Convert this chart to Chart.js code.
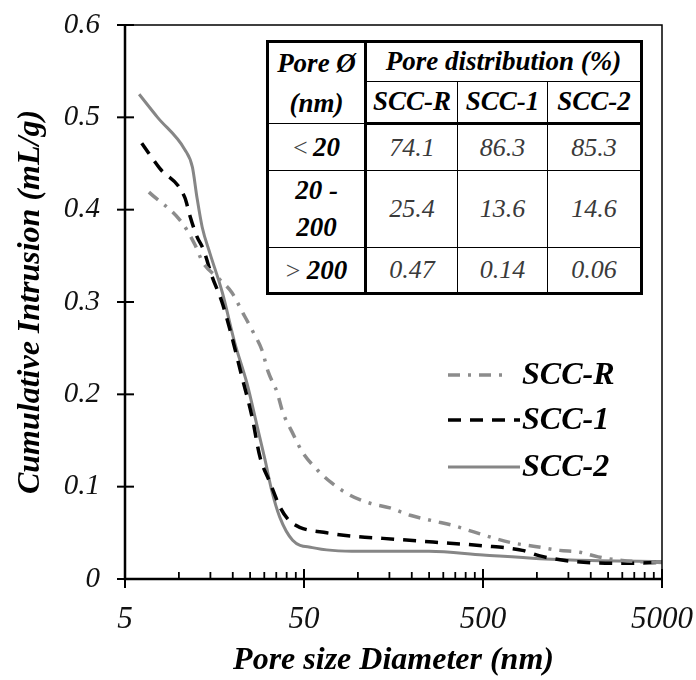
<!DOCTYPE html>
<html>
<head>
<meta charset="utf-8">
<script src="https://cdn.jsdelivr.net/npm/chart.js@4.4.1/dist/chart.umd.min.js"></script>
<style>
  html, body { margin: 0; padding: 0; background: #fff; }
  #wrap { position: relative; width: 696px; height: 680px; }
  #c { position: absolute; left: 0; top: 0; }
  #tbl {
    position: absolute; left: 266px; top: 40px;
    border-collapse: collapse; border: 3px solid #000;
    font-family: "Liberation Serif", "Times New Roman"; font-style: italic;
    font-size: 26px; color: #222; background: #fff; table-layout: fixed;
  }
  #tbl td { border: 1.5px solid #000; padding: 0; text-align: center; vertical-align: middle; white-space: nowrap; }
  #tbl .b { font-weight: bold; color: #000; font-size: 27px; }
  #tbl .v { color: #3a3a3a; }
  #tbl .thickR { border-right: 3px solid #000; }
  #tbl .thickB td { border-bottom: 3px solid #000; }
</style>
</head>
<body>
<div id="wrap">
  <canvas id="c" width="696" height="680"></canvas>
  <table id="tbl">
    <colgroup><col style="width:98px"><col style="width:92px"><col style="width:90px"><col style="width:94px"></colgroup>
    <tr style="height:38px"><td rowspan="2" class="b thickR" style="line-height:40px">Pore Ø<br>(nm)</td><td colspan="3" class="b">Pore distribution (%)</td></tr>
    <tr style="height:40px" class="thickB"><td class="b">SCC-R</td><td class="b">SCC-1</td><td class="b">SCC-2</td></tr>
    <tr style="height:47px"><td class="thickR"><span style="font-style:normal;color:#444">&lt;</span>&#8201;<span class="b">20</span></td><td class="v">74.1</td><td class="v">86.3</td><td class="v">85.3</td></tr>
    <tr style="height:77px"><td class="b thickR" style="line-height:37px">20 -<br>200</td><td class="v">25.4</td><td class="v">13.6</td><td class="v">14.6</td></tr>
    <tr style="height:46px"><td class="thickR"><span style="font-style:normal;color:#444">&gt;</span> <span class="b">200</span></td><td class="v">0.47</td><td class="v">0.14</td><td class="v">0.06</td></tr>
  </table>
</div>
<script>
// ---------------- data ----------------
const seriesNames = ["SCC-R", "SCC-1", "SCC-2"];

const diamR = [6.8, 10.4, 12.3, 13.6, 17.0, 19.8, 22.8, 25.9, 29.1, 31.6, 35.4, 38.0, 43.2, 48.8, 59.4, 71.4, 90, 117, 151, 196, 263, 340, 444, 582, 735, 1000, 1340, 1740, 2200, 3000, 5000];
const intrR = [0.419, 0.386, 0.362, 0.343, 0.324, 0.310, 0.288, 0.268, 0.248, 0.224, 0.202, 0.181, 0.158, 0.138, 0.118, 0.104, 0.091, 0.082, 0.077, 0.069, 0.063, 0.058, 0.051, 0.044, 0.039, 0.035, 0.031, 0.029, 0.024, 0.020, 0.018];

const diam1 = [6.2, 7.8, 10.8, 11.5, 12.6, 13.7, 15.3, 17.4, 19.3, 22.5, 25.6, 28.4, 32.2, 36.7, 41, 47.3, 67, 98, 138, 263, 500, 830, 1040, 1590, 3000, 5000];
const intr1 = [0.472, 0.445, 0.413, 0.394, 0.371, 0.357, 0.328, 0.300, 0.270, 0.219, 0.176, 0.132, 0.105, 0.078, 0.064, 0.056, 0.050, 0.046, 0.044, 0.040, 0.036, 0.031, 0.025, 0.019, 0.017, 0.018];

const diam2 = [6.0, 7.6, 10.8, 11.9, 12.6, 13.5, 14.9, 17.5, 20.5, 24.0, 27.4, 30.3, 33.0, 36.6, 43.2, 55.7, 102, 172, 250, 500, 1040, 2000, 5000];
const intr2 = [0.525, 0.500, 0.465, 0.446, 0.414, 0.381, 0.353, 0.310, 0.256, 0.212, 0.165, 0.129, 0.096, 0.067, 0.042, 0.034, 0.030, 0.030, 0.030, 0.026, 0.022, 0.020, 0.019];

const xMajorTicks = [5, 50, 500, 5000];
const xMinorTicks = [10, 15, 20, 25, 30, 35, 40, 45, 100, 150, 200, 250, 300, 350, 400, 450, 1000, 1500, 2000, 2500, 3000, 3500, 4000, 4500];
const yTicks = [0, 0.1, 0.2, 0.3, 0.4, 0.5, 0.6];
const yTickLabels = ["0", "0.1", "0.2", "0.3", "0.4", "0.5", "0.6"];

const FONT = '"Liberation Serif", "Times New Roman"';

function pts(xs, ys) { return xs.map((x, i) => ({ x: x, y: ys[i] })); }

// ---------------- plugin: frame, ticks, legend ----------------
const framePlugin = {
  id: 'frame',
  afterDraw(chart) {
    const ctx = chart.ctx;
    const xs = chart.scales.x, ys = chart.scales.y;
    const a = chart.chartArea;
    ctx.save();
    ctx.strokeStyle = '#000';
    ctx.lineWidth = 1.5;
    ctx.beginPath();
    ctx.moveTo(a.left, a.top); ctx.lineTo(a.right, a.top); ctx.lineTo(a.right, a.bottom);
    ctx.stroke();
    ctx.lineWidth = 2.5;
    ctx.beginPath();
    ctx.moveTo(a.left, a.top); ctx.lineTo(a.left, a.bottom); ctx.lineTo(a.right + 1, a.bottom);
    ctx.stroke();
    ctx.lineWidth = 2;
    yTicks.forEach(v => {
      const y = ys.getPixelForValue(v);
      ctx.beginPath(); ctx.moveTo(a.left - 8, y); ctx.lineTo(a.left + 9, y); ctx.stroke();
    });
    xMajorTicks.forEach(v => {
      const x = xs.getPixelForValue(v);
      ctx.beginPath(); ctx.moveTo(x, a.bottom - 10); ctx.lineTo(x, a.bottom + 9); ctx.stroke();
    });
    ctx.lineWidth = 1.8;
    xMinorTicks.forEach(v => {
      const x = xs.getPixelForValue(v);
      ctx.beginPath(); ctx.moveTo(x, a.bottom - 7); ctx.lineTo(x, a.bottom); ctx.stroke();
    });
    // legend
    const legY = [375, 420, 467];
    chart.data.datasets.forEach((ds, i) => {
      const y = legY[i];
      ctx.strokeStyle = ds.borderColor;
      ctx.lineWidth = ds.borderWidth;
      ctx.setLineDash(ds.borderDash || []);
      ctx.beginPath(); ctx.moveTo(448, y); ctx.lineTo(i === 0 ? 509 : 520, y); ctx.stroke();
      ctx.setLineDash([]);
      ctx.fillStyle = '#000';
      ctx.font = 'italic bold 32px ' + FONT;
      ctx.textAlign = 'left'; ctx.textBaseline = 'middle';
      ctx.fillText(ds.label, 522, y + 1);
    });
    ctx.restore();
  }
};

new Chart(document.getElementById('c'), {
  type: 'line',
  data: {
    datasets: [
      { label: seriesNames[0], data: pts(diamR, intrR), borderColor: '#8c8c8c', borderWidth: 3.5, borderDash: [12, 8, 3, 8], pointRadius: 0, cubicInterpolationMode: 'monotone', fill: false },
      { label: seriesNames[1], data: pts(diam1, intr1), borderColor: '#000000', borderWidth: 3.5, borderDash: [13, 9], pointRadius: 0, cubicInterpolationMode: 'monotone', fill: false },
      { label: seriesNames[2], data: pts(diam2, intr2), borderColor: '#868686', borderWidth: 3, borderDash: [], pointRadius: 0, cubicInterpolationMode: 'monotone', fill: false }
    ]
  },
  options: {
    responsive: false,
    animation: false,
    events: [],
    layout: { padding: { left: 0, top: 25, right: 34, bottom: 0 } },
    plugins: { legend: { display: false }, tooltip: { enabled: false } },
    scales: {
      x: {
        type: 'logarithmic', min: 5, max: 5000,
        afterBuildTicks: s => { s.ticks = xMajorTicks.map(v => ({ value: v })); },
        afterFit: s => { s.height = 101; s.paddingLeft = 0; s.paddingRight = 0; },
        grid: { display: false, drawTicks: false },
        border: { display: false },
        ticks: { autoSkip: false, maxRotation: 0, padding: 22, color: '#111', font: { family: FONT, size: 31, style: 'italic' }, callback: v => String(v) },
        title: { display: true, text: 'Pore size Diameter (nm)', color: '#000', font: { family: FONT, size: 32, style: 'italic', weight: 'bold' }, padding: { top: 0, bottom: 0 } }
      },
      y: {
        min: 0, max: 0.6,
        afterBuildTicks: s => { s.ticks = yTicks.map(v => ({ value: v })); },
        afterFit: s => { s.width = 125; s.paddingTop = 0; s.paddingBottom = 0; },
        grid: { display: false, drawTicks: false },
        border: { display: false },
        ticks: { padding: 25, color: '#111', font: { family: FONT, size: 29, style: 'italic' }, callback: (v) => yTickLabels[yTicks.findIndex(t => Math.abs(t - v) < 1e-9)] },
        title: { display: true, text: 'Cumulative Intrusion (mL/g)', color: '#000', font: { family: FONT, size: 32, style: 'italic', weight: 'bold' }, padding: { top: 12, bottom: 0 } }
      }
    }
  },
  plugins: [framePlugin]
});
</script>
</body>
</html>
